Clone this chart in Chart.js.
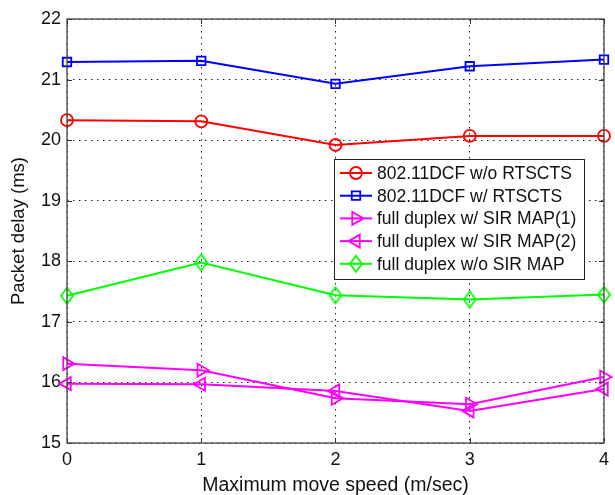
<!DOCTYPE html>
<html>
<head>
<meta charset="utf-8">
<script src="https://cdn.jsdelivr.net/npm/chart.js@4/dist/chart.umd.min.js"></script>
<style>
  html, body { margin: 0; padding: 0; background: #fff; }
  #wrap { width: 615px; height: 495px; }
</style>
</head>
<body>
<div id="wrap"><canvas id="c" width="615" height="495"></canvas></div>
<script>
const categories = ['0', '1', '2', '3', '4'];
const dcfNoRts = [20.33, 20.31, 19.92, 20.07, 20.07];
const dcfRts = [21.29, 21.31, 20.93, 21.22, 21.33];
const fdMap1 = [16.31, 16.20, 15.74, 15.64, 16.09];
const fdMap2 = [15.98, 15.97, 15.86, 15.53, 15.89];
const fdNoMap = [17.43, 17.98, 17.44, 17.37, 17.45];
const seriesLabels = [
  '802.11DCF w/o RTSCTS',
  '802.11DCF w/ RTSCTS',
  'full duplex w/ SIR MAP(1)',
  'full duplex w/ SIR MAP(2)',
  'full duplex w/o SIR MAP'
];
const yMin = 15, yMax = 22, yStep = 1;
const xTitle = 'Maximum move speed (m/sec)';
const yTitle = 'Packet delay (ms)';

const FONT = '"Liberation Sans", Arial, Helvetica, sans-serif';

function diamondCanvas(color) {
  const cv = document.createElement('canvas');
  cv.width = 16; cv.height = 20;
  const g = cv.getContext('2d');
  g.strokeStyle = color; g.lineWidth = 1.8;
  g.beginPath();
  g.moveTo(8, 2); g.lineTo(14, 10); g.lineTo(8, 18); g.lineTo(2, 10); g.closePath();
  g.stroke();
  return cv;
}
const greenDiamond = diamondCanvas('#00ff00');

function ds(label, data, color, style, radius, rotation) {
  return {
    label, data,
    borderColor: color,
    backgroundColor: color,
    borderWidth: 2,
    pointStyle: style,
    pointRadius: radius,
    pointHoverRadius: radius,
    pointRotation: rotation || 0,
    pointBorderColor: color,
    pointBackgroundColor: 'rgba(0,0,0,0)',
    pointBorderWidth: 1.8,
    tension: 0,
    fill: false,
    clip: false
  };
}

const datasets = [
  ds(seriesLabels[0], dcfNoRts, '#ff0000', 'circle', 6),
  ds(seriesLabels[1], dcfRts, '#0000ff', 'rect', 6),
  ds(seriesLabels[2], fdMap1, '#ff00ff', 'triangle', 7.5, 90),
  ds(seriesLabels[3], fdMap2, '#ff00ff', 'triangle', 7.5, -90),
  ds(seriesLabels[4], fdNoMap, '#00ff00', greenDiamond, 7)
];

function drawMarker(ctx, d, x, y) {
  const st = d.pointStyle, r = d.pointRadius;
  ctx.save();
  ctx.strokeStyle = d.pointBorderColor;
  ctx.lineWidth = d.pointBorderWidth;
  ctx.beginPath();
  if (st instanceof HTMLCanvasElement) {
    ctx.drawImage(st, x - st.width / 2, y - st.height / 2);
    ctx.restore();
    return;
  } else if (st === 'circle') {
    ctx.arc(x, y, r, 0, Math.PI * 2);
  } else if (st === 'rect') {
    const s = Math.SQRT1_2 * r;
    ctx.rect(x - s, y - s, 2 * s, 2 * s);
  } else if (st === 'triangle') {
    let rad = (d.pointRotation || 0) * Math.PI / 180;
    ctx.moveTo(x + Math.sin(rad) * r, y - Math.cos(rad) * r);
    rad += 2 * Math.PI / 3;
    ctx.lineTo(x + Math.sin(rad) * r, y - Math.cos(rad) * r);
    rad += 2 * Math.PI / 3;
    ctx.lineTo(x + Math.sin(rad) * r, y - Math.cos(rad) * r);
    ctx.closePath();
  }
  ctx.stroke();
  ctx.restore();
}

const framePlugin = {
  id: 'frame',
  afterDatasetsDraw(chart) {
    const {ctx, chartArea: a, scales} = chart;
    ctx.save();
    // inward tick marks
    ctx.strokeStyle = '#333';
    ctx.lineWidth = 1;
    const tl = 5;
    ctx.beginPath();
    scales.y.ticks.forEach(t => {
      const py = Math.round(scales.y.getPixelForValue(t.value)) + 0.5;
      ctx.moveTo(a.left, py); ctx.lineTo(a.left + tl, py);
      ctx.moveTo(a.right, py); ctx.lineTo(a.right - tl, py);
    });
    scales.x.ticks.forEach((t, i) => {
      const px = Math.round(scales.x.getPixelForTick(i)) + 0.5;
      ctx.moveTo(px, a.bottom); ctx.lineTo(px, a.bottom - tl);
      ctx.moveTo(px, a.top); ctx.lineTo(px, a.top + tl);
    });
    ctx.stroke();
    // box
    ctx.strokeStyle = '#444';
    ctx.lineWidth = 1.3;
    ctx.strokeRect(a.left, a.top, a.right - a.left, a.bottom - a.top);

    // legend
    const lx = 334, ly = 159, lw = 250, lh = 120;
    ctx.fillStyle = '#fff';
    ctx.fillRect(lx, ly, lw, lh);
    ctx.strokeStyle = '#222';
    ctx.lineWidth = 1;
    ctx.strokeRect(lx + 0.5, ly + 0.5, lw, lh);
    ctx.font = '17.5px ' + FONT;
    ctx.textBaseline = 'middle';
    ctx.textAlign = 'left';
    chart.data.datasets.forEach((d, i) => {
      const cy = ly + 14 + i * 22.7;
      ctx.strokeStyle = d.borderColor;
      ctx.lineWidth = d.borderWidth;
      ctx.beginPath();
      ctx.moveTo(lx + 6, cy); ctx.lineTo(lx + 38, cy);
      ctx.stroke();
      drawMarker(ctx, d, lx + 22, cy);
      ctx.fillStyle = '#111';
      ctx.fillText(d.label, lx + 43, cy + 1);
    });
    ctx.restore();
  }
};

new Chart(document.getElementById('c'), {
  type: 'line',
  data: { labels: categories, datasets },
  plugins: [framePlugin],
  options: {
    responsive: false,
    animation: false,
    devicePixelRatio: 1,
    layout: { padding: { left: 0, right: 8, top: 19, bottom: 0 } },
    plugins: { legend: { display: false }, tooltip: { enabled: false } },
    scales: {
      x: {
        type: 'category',
        offset: false,
        grid: { display: true, color: '#222', lineWidth: 1, drawTicks: false },
        border: { display: false, dash: [1.5, 4.5] },
        ticks: { color: '#111', font: { family: FONT, size: 18 }, padding: 6, maxRotation: 0 },
        title: { display: true, text: xTitle, color: '#111', font: { family: FONT, size: 19.5, lineHeight: 1 }, padding: { top: 0, bottom: 0 } },
        afterFit(s) { s.height = 52; }
      },
      y: {
        min: yMin, max: yMax,
        grid: { display: true, color: '#222', lineWidth: 1, drawTicks: false },
        border: { display: false, dash: [1.5, 4.5] },
        ticks: { stepSize: yStep, color: '#111', font: { family: FONT, size: 18 }, padding: 6 },
        title: { display: true, text: yTitle, color: '#111', font: { family: FONT, size: 18.5 }, padding: { top: 8, bottom: 0 } },
        afterFit(s) { s.width = 67; }
      }
    }
  }
});
</script>
</body>
</html>
